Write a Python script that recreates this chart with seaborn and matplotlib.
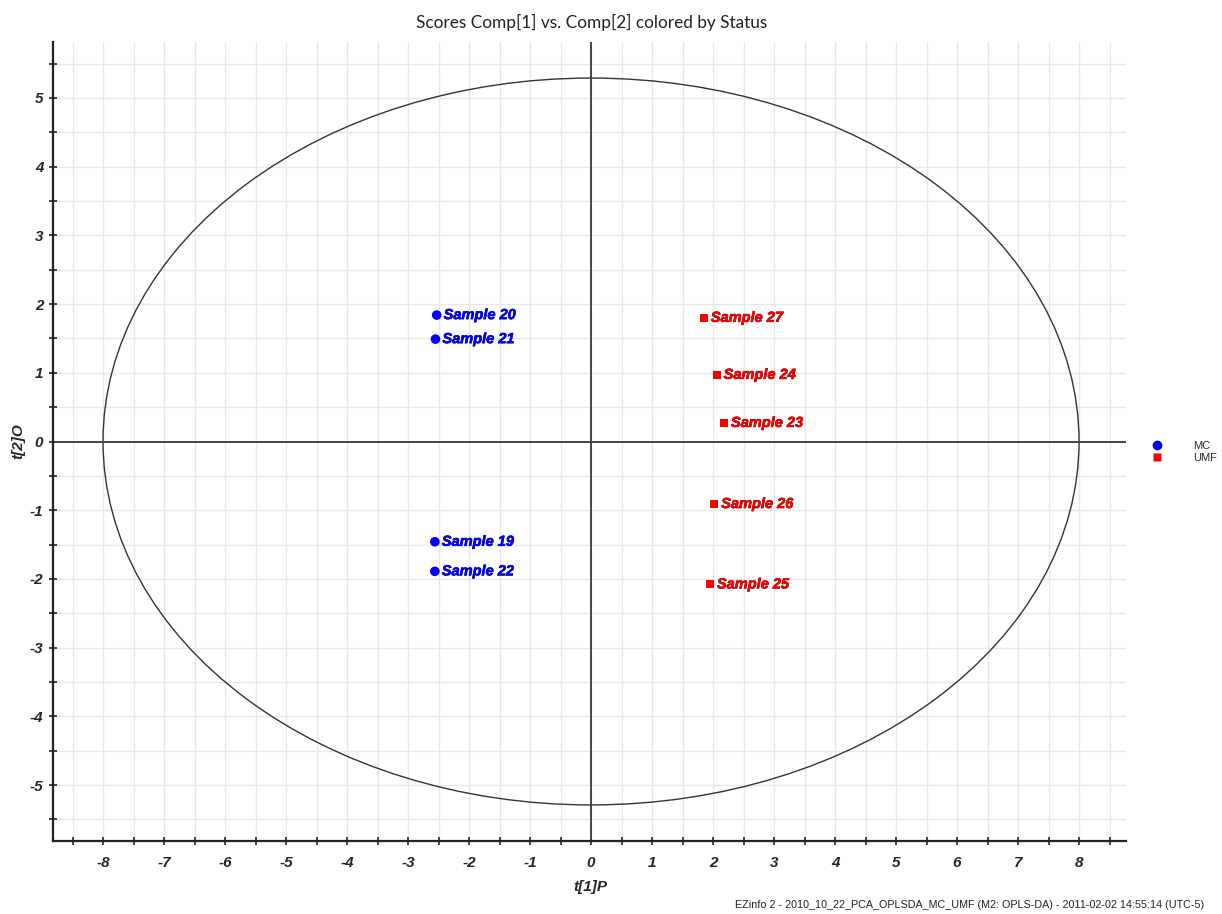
import matplotlib
matplotlib.use("Agg")
import matplotlib.pyplot as plt
import matplotlib.patheffects as pe
from matplotlib.patches import Ellipse
from matplotlib.lines import Line2D
from matplotlib.ticker import MultipleLocator
import pandas as pd
import seaborn as sns

# Score values per sample (t[1]P, t[2]O)
samples = ["Sample 20", "Sample 21", "Sample 19", "Sample 22",
           "Sample 27", "Sample 24", "Sample 23", "Sample 26", "Sample 25"]
status = ["MC", "MC", "MC", "MC", "UMF", "UMF", "UMF", "UMF", "UMF"]
t1 = [-2.53, -2.55, -2.56, -2.56, 1.85, 2.06, 2.18, 2.02, 1.95]
t2 = [1.84, 1.49, -1.46, -1.89, 1.80, 0.97, 0.27, -0.91, -2.08]

# Hotelling T2 ellipse semi-axes
ellipse_a = 8.0
ellipse_b = 5.29

x_ticks = list(range(-8, 9))
y_ticks = list(range(-5, 6))
x_tick_labels = [str(v) for v in x_ticks]
y_tick_labels = [str(v) for v in y_ticks]

groups = ["MC", "UMF"]
group_colors = {"MC": "#0000ff", "UMF": "#ff0000"}
group_markers = {"MC": "o", "UMF": "s"}
group_sizes = {"MC": 48, "UMF": 32}
label_edge = {"MC": "#00005a", "UMF": "#5a0000"}

df = pd.DataFrame({"Sample": samples, "Status": status, "t1": t1, "t2": t2})

sns.set_style("white")
narrow = ["Liberation Sans Narrow", "Liberation Sans", "DejaVu Sans"]
plt.rcParams["font.family"] = ["Liberation Sans", "DejaVu Sans"]

fig = plt.figure(figsize=(12.22, 9.14), dpi=100)
ax = fig.add_axes([53 / 1222, 1 - 841 / 914, (1126 - 53) / 1222, (841 - 42) / 914])

ax.set_xlim(-8.82, 8.77)
ax.set_ylim(-5.815, 5.815)

# grid every half unit
ax.xaxis.set_minor_locator(MultipleLocator(0.5))
ax.yaxis.set_minor_locator(MultipleLocator(0.5))
ax.grid(which="both", color="#e8e8e8", linewidth=1.0)
ax.set_axisbelow(True)

ax.add_patch(Ellipse((0, 0), 2 * ellipse_a, 2 * ellipse_b, fill=False,
                     edgecolor="#333333", linewidth=1.0, zorder=2))
ax.axhline(0, color="#444444", linewidth=1.4, zorder=2)
ax.axvline(0, color="#444444", linewidth=1.4, zorder=2)

sns.scatterplot(data=df, x="t1", y="t2", hue="Status", style="Status",
                size="Status", sizes=group_sizes, markers=group_markers,
                palette=group_colors, edgecolor="none", legend=False,
                ax=ax, zorder=4)

for name, grp, x, y in zip(samples, status, t1, t2):
    ax.annotate(name, (x, y), xytext=(5, 0), textcoords="offset points",
                ha="left", va="center", fontsize=10.5, fontweight="bold",
                fontstyle="italic", color=group_colors[grp], zorder=5,
                path_effects=[pe.withStroke(linewidth=0.45, foreground=label_edge[grp])])

ax.set_xticks(x_ticks, labels=x_tick_labels)
ax.set_yticks(y_ticks, labels=y_tick_labels)
for lab in ax.get_xticklabels() + ax.get_yticklabels():
    lab.set_family(narrow)
    lab.set_fontweight("bold")
    lab.set_fontstyle("italic")
    lab.set_fontsize(11)
ax.tick_params(which="both", direction="inout", length=6, width=1.2,
               color="#222222", bottom=True, left=True)
ax.tick_params(axis="x", pad=8)
ax.tick_params(axis="y", pad=4)

for side in ["top", "right"]:
    ax.spines[side].set_visible(False)
for side in ["left", "bottom"]:
    ax.spines[side].set_color("#222222")
    ax.spines[side].set_linewidth(1.6)

ax.set_xlabel("t[1]P", family=narrow, fontsize=11, fontweight="bold",
              fontstyle="italic")
ax.set_ylabel("t[2]O", family=narrow, fontsize=11, fontweight="bold",
              fontstyle="italic")
ax.xaxis.set_label_coords((590 - 53) / 1073, -(887 - 841) / 799)
ax.yaxis.set_label_coords(-(53 - 18) / 1073, (841 - 441) / 799)
ax.xaxis.label.set_va("center")
ax.yaxis.label.set_va("center")

fig.text(592 / 1222, 1 - 22 / 914, "Scores Comp[1] vs. Comp[2] colored by Status",
         ha="center", va="center", fontsize=12.4, family=["Lato", "DejaVu Sans"],
         color="#222222")

handles = [Line2D([], [], linestyle="none", marker=group_markers[g],
                  markersize=7 if g == "MC" else 6,
                  markerfacecolor=group_colors[g], markeredgecolor="none")
           for g in groups]
ax.legend(handles, groups, loc="center left", bbox_to_anchor=(1.02, 0.487),
          frameon=False, fontsize=8, labelspacing=0.15, handletextpad=2.7,
          handlelength=1.0, borderaxespad=0)

fig.text(1204 / 1222, 1 - 905 / 914,
         "EZinfo 2 - 2010_10_22_PCA_OPLSDA_MC_UMF (M2: OPLS-DA) - 2011-02-02 14:55:14 (UTC-5)",
         ha="right", va="center", fontsize=7.75, color="#222222")

fig.savefig("out.png", dpi=100)
